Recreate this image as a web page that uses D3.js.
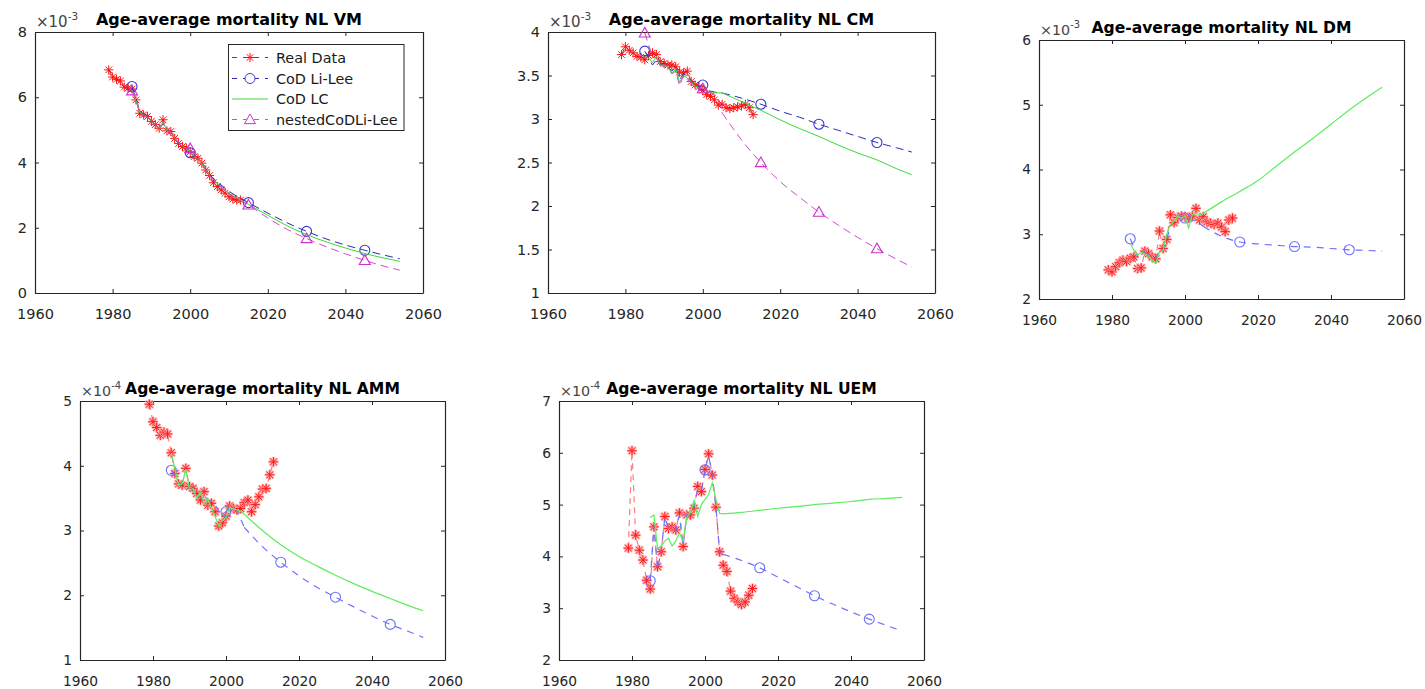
<!DOCTYPE html>
<html><head><meta charset="utf-8">
<script src="https://cdn.jsdelivr.net/npm/d3@7"></script>
<style>
body{margin:0;background:#fff}
svg{display:block}
text{font-family:"DejaVu Sans",sans-serif}
</style>
</head><body>
<svg id="c" width="1425" height="689"></svg>
<script>
// ---------------- data ----------------
const realYears = [1979,1980,1981,1982,1983,1984,1985,1986,1987,1988,1989,1990,1991,1992,1993,1994,1995,1996,1997,1998,1999,2000,2001,2002,2003,2004,2005,2006,2007,2008,2009,2010,2011,2012,2013];
const fitYears  = [1985,1986,1987,1988,1989,1990,1991,1992,1993,1994,1995,1996,1997,1998,1999,2000,2001,2002,2003,2004,2005,2010,2015,2020,2025,2030,2035,2040,2045,2050,2054];
const markerYears = [1985,2000,2015,2030,2045];
const xTicks = [1960,1980,2000,2020,2040,2060];
const seriesNames = ["Real Data","CoD Li-Lee","CoD LC","nestedCoDLi-Lee"];

const vmReal   = [6.84,6.62,6.55,6.50,6.31,6.28,6.25,5.92,5.51,5.46,5.41,5.26,5.16,5.05,5.31,4.97,4.95,4.74,4.58,4.49,4.44,4.33,4.18,4.13,3.98,3.77,3.60,3.38,3.26,3.16,3.06,2.95,2.88,2.85,2.85];
const vmLiLee  = [6.33,5.95,5.60,5.48,5.38,5.27,5.15,5.05,5.20,4.98,4.93,4.75,4.60,4.50,4.42,4.30,4.20,4.12,3.98,3.80,3.62,3.12,2.77,2.45,2.15,1.89,1.66,1.47,1.31,1.16,1.05];
const vmLC     = [6.22,5.90,5.55,5.46,5.40,5.27,5.15,5.05,5.25,4.97,4.93,4.75,4.60,4.50,4.43,4.32,4.18,4.12,3.98,3.78,3.60,3.06,2.72,2.38,2.06,1.79,1.57,1.38,1.21,1.07,0.97];
const vmNested = [6.20,5.90,5.55,5.45,5.38,5.25,5.13,5.02,5.22,4.96,4.92,4.74,4.60,4.50,4.45,4.43,4.20,4.12,3.97,3.77,3.60,3.04,2.70,2.30,1.95,1.67,1.42,1.20,1.00,0.82,0.70];
const vmTicks  = [0,2,4,6,8];

const cmReal   = [3.74,3.83,3.79,3.76,3.72,3.71,3.68,3.73,3.76,3.74,3.66,3.64,3.62,3.62,3.60,3.54,3.53,3.55,3.43,3.39,3.37,3.33,3.28,3.26,3.22,3.16,3.17,3.13,3.12,3.13,3.14,3.15,3.17,3.13,3.05];
const cmLiLee  = [3.78,3.70,3.62,3.68,3.62,3.64,3.60,3.55,3.60,3.45,3.52,3.48,3.44,3.40,3.37,3.39,3.33,3.32,3.31,3.30,3.30,3.24,3.17,3.09,3.02,2.94,2.87,2.80,2.73,2.67,2.62];
const cmLC     = [3.72,3.70,3.65,3.72,3.62,3.62,3.60,3.52,3.58,3.42,3.50,3.47,3.43,3.38,3.36,3.36,3.32,3.30,3.30,3.30,3.30,3.20,3.10,2.99,2.89,2.80,2.70,2.61,2.53,2.43,2.36];
const cmNested = [3.99,3.85,3.72,3.70,3.62,3.60,3.62,3.52,3.55,3.38,3.50,3.45,3.42,3.38,3.36,3.35,3.32,3.30,3.28,3.25,3.07,2.76,2.50,2.28,2.10,1.93,1.78,1.64,1.51,1.39,1.30];
const cmTicks  = [1,1.5,2,2.5,3,3.5,4];

const dmReal   = [2.45,2.42,2.50,2.56,2.60,2.58,2.63,2.65,2.47,2.48,2.74,2.70,2.65,2.62,3.05,2.78,2.92,3.30,3.18,3.26,3.28,3.27,3.25,3.28,3.40,3.22,3.27,3.19,3.17,3.15,3.17,3.11,3.04,3.22,3.25];
const dmLiLee  = [2.93,2.80,2.66,2.70,2.72,2.68,2.65,2.63,2.75,2.74,2.90,3.15,3.20,3.25,3.27,3.25,3.30,3.22,3.20,3.17,3.12,2.97,2.88,2.85,2.83,2.81,2.80,2.78,2.76,2.75,2.74];
const dmLC     = [2.86,2.75,2.68,2.72,2.70,2.66,2.60,2.55,2.72,2.75,3.00,3.15,3.20,3.28,3.25,3.28,3.10,3.30,3.32,3.30,3.32,3.50,3.66,3.83,4.05,4.27,4.48,4.70,4.92,5.12,5.27];
const dmTicks  = [2,3,4,5,6];

const ammReal  = [4.95,4.68,4.59,4.47,4.52,4.49,4.20,3.88,3.72,3.70,3.96,3.68,3.65,3.57,3.47,3.60,3.39,3.42,3.29,3.07,3.12,3.22,3.38,3.34,3.32,3.34,3.43,3.47,3.29,3.40,3.52,3.64,3.65,3.86,4.06];
const ammLiLee = [3.93,3.85,3.72,3.68,3.70,3.65,3.60,3.57,3.50,3.55,3.48,3.45,3.40,3.30,3.25,3.29,3.36,3.34,3.30,3.18,3.05,2.75,2.51,2.30,2.12,1.97,1.82,1.68,1.55,1.44,1.35];
const ammLC    = [4.20,3.95,3.70,3.72,3.95,3.62,3.65,3.50,3.60,3.42,3.50,3.35,3.22,3.07,3.15,3.20,3.35,3.33,3.32,3.30,3.25,3.00,2.78,2.60,2.45,2.31,2.18,2.06,1.95,1.84,1.76];
const ammTicks = [1,2,3,4,5];

const uemReal  = [4.16,6.04,4.41,4.12,3.93,3.54,3.37,4.57,3.80,4.09,4.77,4.54,4.57,4.51,4.84,4.19,4.80,4.80,4.93,5.35,5.25,5.68,5.98,5.57,4.95,4.09,3.83,3.71,3.33,3.19,3.12,3.07,3.12,3.25,3.38];
const uemLiLee = [3.53,4.60,3.75,4.10,4.75,4.55,4.55,4.50,4.80,4.20,4.80,4.80,4.95,5.30,5.25,5.67,5.95,5.55,4.95,4.08,4.04,3.92,3.78,3.60,3.42,3.24,3.08,2.93,2.79,2.66,2.56];
const uemLC    = [4.75,4.80,4.15,4.20,4.30,4.35,4.20,4.30,4.45,4.30,4.75,4.85,5.08,4.77,5.00,5.10,5.20,5.42,5.10,4.83,4.82,4.85,4.89,4.93,4.96,5.00,5.03,5.06,5.10,5.12,5.14];
const uemTicks = [2,3,4,5,6,7];

// ---------------- styles & layout ----------------
const sharp = {real:"#c01818", star:"#ff1010", lilee:"#2b2bb0", circ:"#3a3acc", lc:"#38d838", nested:"#d448d4", tri:"#cc33cc",
  dashReal:"6,4", dash:"8,5", lw:1, halo:false, tick:14.5, title:16, expFs:15, supFs:10.5};
const soft  = {real:"#ff7c7c", star:"#ff1a1a", lilee:"#7070ff", circ:"#6e6eff", lc:"#5ded5d", nested:"#d448d4", tri:"#cc33cc",
  dashReal:"6,5", dash:"7,6", lw:1.2, halo:true, tick:13.8, title:15.6, expFs:14.3, supFs:10};

const panels = [
  {title:"Age-average mortality NL VM", exp:"-3", dom:[0,8], ticks:vmTicks, real:vmReal, lilee:vmLiLee, lc:vmLC, nested:vmNested,
   L:35, T:32, R:423, B:293, st:sharp, titleY:24.5, legend:true},
  {title:"Age-average mortality NL CM", exp:"-3", dom:[1,4], ticks:cmTicks, real:cmReal, lilee:cmLiLee, lc:cmLC, nested:cmNested,
   L:548, T:32, R:935, B:293, st:sharp, titleY:25},
  {title:"Age-average mortality NL DM", exp:"-3", dom:[2,6], ticks:dmTicks, real:dmReal, lilee:dmLiLee, lc:dmLC,
   L:1039, T:40, R:1404, B:299, st:soft, titleY:33},
  {title:"Age-average mortality NL AMM", exp:"-4", dom:[1,5], ticks:ammTicks, real:ammReal, lilee:ammLiLee, lc:ammLC,
   L:80, T:401, R:445, B:660, st:soft, titleY:394},
  {title:"Age-average mortality NL UEM", exp:"-4", dom:[2,7], ticks:uemTicks, real:uemReal, lilee:uemLiLee, lc:uemLC,
   L:559, T:401, R:924, B:660, st:soft, titleY:394}
];

const svg = d3.select("#c");
const AX = "#262626";

function starPath(r){ const k=r*0.72;
  return `M${-r},0L${r},0M0,${-r}L0,${r}M${-k},${-k}L${k},${k}M${-k},${k}L${k},${-k}`; }
function triPath(r){ return `M0,${-r}L${r},${r*0.75}L${-r},${r*0.75}Z`; }

function drawStar(g, px, py, st){
  if(st.halo){
    g.append("path").attr("d",starPath(5.2)).attr("transform",`translate(${px},${py})`)
      .attr("stroke","#ff9f9f").attr("stroke-width",2.6).attr("fill","none").attr("opacity",0.8);
  }
  g.append("path").attr("d",starPath(4.6)).attr("transform",`translate(${px},${py})`)
    .attr("stroke",st.star).attr("stroke-width",1).attr("fill","none");
}

panels.forEach(p=>{
  const st = p.st;
  const x = d3.scaleLinear().domain([1960,2060]).range([p.L,p.R]);
  const y = d3.scaleLinear().domain(p.dom).range([p.B,p.T]);
  const g = svg.append("g");

  // axes
  const ax = g.append("g").attr("class","axes");
  const xb = d3.axisBottom(x).tickValues(xTicks).tickSize(-4).tickSizeOuter(0).tickPadding(26 - 0.71*st.tick).tickFormat(d3.format("d"));
  const xt = d3.axisTop(x).tickValues(xTicks).tickSize(-4).tickSizeOuter(0).tickFormat("");
  const yl = d3.axisLeft(y).tickValues(p.ticks).tickSize(-4).tickSizeOuter(0).tickPadding(8).tickFormat(d=>String(d));
  const yr = d3.axisRight(y).tickValues(p.ticks).tickSize(-4).tickSizeOuter(0).tickFormat("");
  ax.append("g").attr("transform",`translate(0,${p.B})`).call(xb);
  ax.append("g").attr("transform",`translate(0,${p.T})`).call(xt);
  ax.append("g").attr("transform",`translate(${p.L},0)`).call(yl);
  ax.append("g").attr("transform",`translate(${p.R},0)`).call(yr);
  ax.selectAll(".domain").attr("stroke",AX).attr("stroke-width",1.2);
  ax.selectAll(".tick line").attr("stroke",AX).attr("stroke-width",1);
  ax.selectAll(".tick text").attr("fill",AX).attr("font-size",st.tick).attr("font-family",'"DejaVu Sans",sans-serif');

  // title
  g.append("text").attr("x",(p.L+p.R)/2).attr("y",p.titleY).attr("text-anchor","middle")
    .attr("font-weight","bold").attr("font-size",st.title).attr("fill","#000").text(p.title);
  // exponent
  const e = g.append("text").attr("x",p.L+1).attr("y",p.T-5).attr("fill","#444").attr("font-size",st.expFs);
  e.append("tspan").text("×10");
  e.append("tspan").attr("font-size",st.supFs).attr("dy",-7.5).text(p.exp);

  const pts = (vals, yrs) => yrs.map((yy,i)=>({yr:yy, v:vals[i]}));
  const lineLin = d3.line().x(d=>x(d.yr)).y(d=>y(d.v));
  const lineSm  = d3.line().x(d=>x(d.yr)).y(d=>y(d.v)).curve(d3.curveMonotoneX);

  function modelPath(vals, color, dash){
    const all = pts(vals, fitYears);
    const fit = all.filter(d=>d.yr<=2005), fc = all.filter(d=>d.yr>=2005);
    [[fit,lineLin],[fc,lineSm]].forEach(([arr,fn])=>{
      g.append("path").attr("d",fn(arr)).attr("fill","none").attr("stroke",color)
        .attr("stroke-width",st.lw).attr("stroke-dasharray",dash||null);
    });
    return all;
  }

  // Real data
  const rp = pts(p.real, realYears);
  g.append("path").attr("d",lineLin(rp)).attr("fill","none").attr("stroke",st.real)
    .attr("stroke-width",st.lw).attr("stroke-dasharray",st.dashReal);
  rp.forEach(d=>drawStar(g, x(d.yr), y(d.v), st));

  // CoD Li-Lee
  const lp = modelPath(p.lilee, st.lilee, st.dash);
  lp.filter(d=>markerYears.includes(d.yr)).forEach(d=>{
    g.append("circle").attr("cx",x(d.yr)).attr("cy",y(d.v)).attr("r",5)
      .attr("fill","none").attr("stroke",st.circ).attr("stroke-width",1.1);
  });

  // CoD LC
  modelPath(p.lc, st.lc, null);

  // nested
  if(p.nested){
    const np = modelPath(p.nested, st.nested, st.dash);
    np.filter(d=>markerYears.includes(d.yr)).forEach(d=>{
      g.append("path").attr("d",triPath(5.5)).attr("transform",`translate(${x(d.yr)},${y(d.v)})`)
        .attr("fill","none").attr("stroke",st.tri).attr("stroke-width",1.1);
    });
  }

  // legend
  if(p.legend){
    const lg = g.append("g");
    lg.append("rect").attr("x",228.5).attr("y",44.5).attr("width",175.5).attr("height",86)
      .attr("fill","#fff").attr("stroke",AX).attr("stroke-width",1);
    const rows = [57.5,78.5,99,119.5];
    const cols = [[st.real,st.dashReal],[st.lilee,st.dash],[st.lc,null],[st.nested,st.dash]];
    seriesNames.forEach((nm,i)=>{
      const yy = rows[i];
      lg.append("line").attr("x1",232).attr("x2",268).attr("y1",yy).attr("y2",yy)
        .attr("stroke",cols[i][0]).attr("stroke-width",1).attr("stroke-dasharray", cols[i][1] ? "5,6" : null);
      if(i===0) drawStar(lg, 250, yy, st);
      if(i===1) lg.append("circle").attr("cx",250).attr("cy",yy).attr("r",5).attr("fill","#fff").attr("stroke",st.circ);
      if(i===3) lg.append("path").attr("d",triPath(5.5)).attr("transform",`translate(250,${yy})`).attr("fill","#fff").attr("stroke",st.tri);
      lg.append("text").attr("x",276).attr("y",yy).attr("dy","0.36em").attr("font-size",14.4).attr("fill","#1a1a1a").text(nm);
    });
  }
});
</script>
</body></html>
